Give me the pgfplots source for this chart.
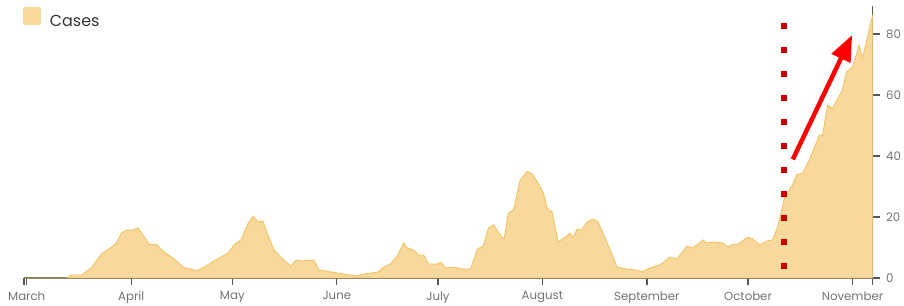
\documentclass[border=0pt]{standalone}
\usepackage{pgfplots}
\pgfplotsset{compat=1.18}
\usepackage{fontspec}
\setmainfont{Poppins}
\usetikzlibrary{arrows.meta}
\definecolor{fillc}{RGB}{249,216,156}
\definecolor{linec}{RGB}{240,196,100}
\definecolor{axc}{RGB}{85,85,85}
\definecolor{labc}{RGB}{115,115,115}
\definecolor{dotred}{RGB}{204,0,0}
\begin{document}
\begin{tikzpicture}
\begin{axis}[
  name=ax,
  scale only axis,
  width=848.7bp, height=272bp,
  xmin=-0.8, xmax=251.0,
  ymin=0, ymax=89.2,
  axis x line*=bottom,
  axis y line*=right,
  axis line style={axc, line width=1.3bp},
  xtick={0,31,61,92,122,153,184,214,245},
  xticklabels={March,April,May,June,July,August,September,October,November},
  extra x ticks={-0.8,251.0},
  extra x tick labels={},
  ytick={0,20,40,60,80},
  tick align=outside,
  major tick length=7bp,
  tick style={axc, line width=1.3bp},
  every tick label/.append style={font=\fontsize{11.8}{13}\selectfont, text=labc},
  /pgf/number format/assume math mode=true,
  xticklabel style={yshift=-3bp},
  yticklabel style={xshift=3bp},
  legend style={at={(axis description cs:0,1)}, anchor=north west, draw=none, fill=none,
    inner sep=0pt, outer sep=0pt, font=\fontsize{16}{18}\selectfont, text=black!80,
    yshift=-1bp, xshift=-1bp,
    /tikz/every odd column/.append style={column sep=7bp}},
  legend cell align=left,
  legend image code/.code={\fill[fillc, rounded corners=1.5bp] (0bp,-3bp) rectangle (17bp,14bp);},
  clip=false,
]
\addplot[fill=fillc, draw=linec, line width=0.9bp] table {
-0.8 0
0 0
11.8 0
13.3 1
16.3 1
19.2 3.3
22.2 8
25.1 10
26.6 11.5
28.1 14.7
29.6 15.7
31.1 15.7
33.1 16.4
34.9 13.4
36.4 11
38.5 11
40.8 8.5
43.8 6.2
46.7 3.4
48.8 2.9
50.3 2.3
52.7 3.6
54.7 5
57.7 6.9
59.8 8.2
61.5 10.8
63.6 12.5
65.7 18
67.2 20.3
68.6 18.4
70.1 18.7
71.6 14
73.4 9.2
75.3 6.9
76.3 5.9
78.4 3.9
79.9 5.9
81.4 5.6
85.2 5.9
86.7 2.6
90.2 2
94.1 1.3
97.6 0.7
100 1.3
104.4 2
105.9 3.6
108 4.6
110.1 7.5
111.8 11.5
113 9.8
114.8 9.2
116.3 7.5
117.8 7.5
119.2 4.6
121.9 4.6
122.8 5.2
124.3 3.3
126.6 3.6
129.6 2.9
131.7 2.9
133.7 9.5
135.5 10.5
137 16.4
138.5 17.4
141.1 13.1
141.7 13.1
142.9 21.3
144.4 22.3
146.4 32
148.5 35
150 34
151.8 31
153.3 27.9
154.4 23
155.9 21.6
157.7 11.8
159.8 13.4
161.2 14.7
162.1 13.4
163.3 16
164.8 16
166.3 18.4
168 19.3
169.5 18.4
171 14.7
173.1 9.2
175.1 3.6
178.1 2.9
181.1 2.6
182.5 2
184.9 3.3
187.9 4.3
190.8 6.9
192.9 6.2
195.9 10.5
197.3 9.8
199.7 11.5
200.6 12.5
201.8 11.5
203.6 11.8
206.5 11.5
208 10.2
209.5 11
210.9 11
213.9 13.4
215.4 12.8
217.5 10.8
219.5 12.1
221.3 12.5
222.8 16.7
224.9 26.6
227.2 30.5
228.4 33.8
230.2 34.4
232.2 38.7
235.2 46.9
236.1 46.6
237.6 56.7
239.1 55.7
242 61.6
243.2 67.5
245 69.2
247 76.4
247.9 72
249.4 78.7
250.6 84.6
251 86
} \closedcycle;
\addlegendentry{Cases}
\draw[dotred, line width=6bp, dash pattern=on 6bp off 18bp] (axis cs:224.8,3.05) -- (axis cs:224.8,83.7);
\draw[red, line width=4.5bp, -{Triangle[length=26bp,width=20bp]}] (axis cs:227.3,38.9) -- (axis cs:244.9,79.7);
\end{axis}
\pgfresetboundingbox
\useasboundingbox ([xshift=-24bp,yshift=-28bp]ax.south west) rectangle ([xshift=31.3bp,yshift=6bp]ax.north east);
\end{tikzpicture}
\end{document}
